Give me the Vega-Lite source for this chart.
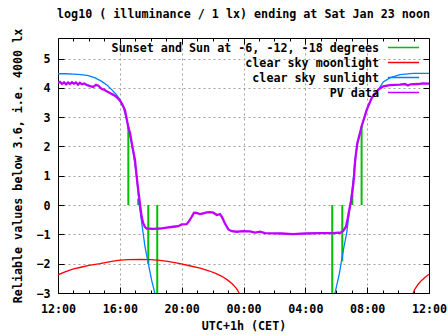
{
  "$schema": "https://vega.github.io/schema/vega-lite/v6.json",
  "width": 371,
  "height": 255,
  "autosize": "none",
  "padding": {"left": 58, "top": 38, "right": 18, "bottom": 42},
  "background": "white",
  "title": {
    "text": "log10 ( illuminance / 1 lx) ending at Sat Jan 23 noon",
    "font": "DejaVu Sans Mono",
    "fontSize": 11.7,
    "fontWeight": "bold",
    "color": "black",
    "anchor": "middle",
    "offset": 8
  },
  "config": {
    "view": {"stroke": null},
    "font": "DejaVu Sans Mono",
    "axis": {
      "labelFont": "DejaVu Sans Mono",
      "labelFontSize": 11.7,
      "labelFontWeight": "bold",
      "labelColor": "black",
      "titleFont": "DejaVu Sans Mono",
      "titleFontSize": 11.7,
      "titleFontWeight": "bold",
      "titleColor": "black",
      "domainColor": "black",
      "domainWidth": 1,
      "tickColor": "black",
      "tickWidth": 1,
      "gridColor": "#a0a0a0",
      "gridDash": [2, 3],
      "gridWidth": 1
    },
    "legend": {
      "labelFont": "DejaVu Sans Mono",
      "labelFontSize": 11.7,
      "labelFontWeight": "bold",
      "labelColor": "black"
    }
  },
  "datasets": {
    "green": [
      {"h": 4.55, "v": 2.68}, {"h": 5.19, "v": 0.22}, {"h": 5.84, "v": -2.0}, {"h": 6.42, "v": -3.0},
      {"h": 17.74, "v": -3.0}, {"h": 18.39, "v": -1.92}, {"h": 19.04, "v": 0.34}, {"h": 19.64, "v": 2.68}
    ],
    "red": [
      {"seg": "a", "h": 0, "v": -2.38}, {"seg": "a", "h": 0.5, "v": -2.27}, {"seg": "a", "h": 1.0, "v": -2.18},
      {"seg": "a", "h": 1.42, "v": -2.13}, {"seg": "a", "h": 2.0, "v": -2.06}, {"seg": "a", "h": 2.72, "v": -2.0},
      {"seg": "a", "h": 3.3, "v": -1.94}, {"seg": "a", "h": 3.88, "v": -1.89}, {"seg": "a", "h": 4.5, "v": -1.86},
      {"seg": "a", "h": 5.3, "v": -1.85}, {"seg": "a", "h": 6.0, "v": -1.86}, {"seg": "a", "h": 6.6, "v": -1.89},
      {"seg": "a", "h": 7.2, "v": -1.93}, {"seg": "a", "h": 7.9, "v": -2.0}, {"seg": "a", "h": 8.5, "v": -2.07},
      {"seg": "a", "h": 9.2, "v": -2.15}, {"seg": "a", "h": 9.8, "v": -2.25}, {"seg": "a", "h": 10.2, "v": -2.33},
      {"seg": "a", "h": 10.6, "v": -2.43}, {"seg": "a", "h": 11.0, "v": -2.57}, {"seg": "a", "h": 11.3, "v": -2.7},
      {"seg": "a", "h": 11.55, "v": -2.85}, {"seg": "a", "h": 11.72, "v": -3.0}, {"seg": "a", "h": 11.8, "v": -3.1},
      {"seg": "b", "h": 22.93, "v": -3.08}, {"seg": "b", "h": 23.05, "v": -2.9}, {"seg": "b", "h": 23.3, "v": -2.7},
      {"seg": "b", "h": 23.5, "v": -2.58}, {"seg": "b", "h": 23.75, "v": -2.46}, {"seg": "b", "h": 24.0, "v": -2.36}
    ],
    "blue": [
      {"seg": "a", "h": 0, "v": 4.48}, {"seg": "a", "h": 0.5, "v": 4.48}, {"seg": "a", "h": 1.0, "v": 4.47},
      {"seg": "a", "h": 1.5, "v": 4.45}, {"seg": "a", "h": 1.96, "v": 4.42}, {"seg": "a", "h": 2.4, "v": 4.34},
      {"seg": "a", "h": 2.83, "v": 4.22}, {"seg": "a", "h": 3.2, "v": 4.08}, {"seg": "a", "h": 3.47, "v": 3.94},
      {"seg": "a", "h": 3.75, "v": 3.78}, {"seg": "a", "h": 4.01, "v": 3.6}, {"seg": "a", "h": 4.2, "v": 3.38},
      {"seg": "a", "h": 4.33, "v": 3.14}, {"seg": "a", "h": 4.45, "v": 2.9}, {"seg": "a", "h": 4.53, "v": 2.75},
      {"seg": "a", "h": 4.87, "v": 1.77}, {"seg": "a", "h": 5.09, "v": 0.97}, {"seg": "a", "h": 5.26, "v": 0.0},
      {"seg": "a", "h": 5.45, "v": -0.74}, {"seg": "a", "h": 5.63, "v": -1.43}, {"seg": "a", "h": 5.84, "v": -2.0},
      {"seg": "a", "h": 6.06, "v": -2.57}, {"seg": "a", "h": 6.27, "v": -3.02}, {"seg": "a", "h": 6.33, "v": -3.2},
      {"seg": "b", "h": 17.85, "v": -3.25}, {"seg": "b", "h": 17.92, "v": -3.0}, {"seg": "b", "h": 18.2, "v": -2.34},
      {"seg": "b", "h": 18.35, "v": -1.88}, {"seg": "b", "h": 18.5, "v": -1.43}, {"seg": "b", "h": 18.67, "v": -0.97},
      {"seg": "b", "h": 18.78, "v": -0.51}, {"seg": "b", "h": 18.89, "v": -0.06}, {"seg": "b", "h": 18.99, "v": 0.4},
      {"seg": "b", "h": 19.1, "v": 0.86}, {"seg": "b", "h": 19.21, "v": 1.54}, {"seg": "b", "h": 19.34, "v": 2.0},
      {"seg": "b", "h": 19.64, "v": 2.68}, {"seg": "b", "h": 19.97, "v": 3.25}, {"seg": "b", "h": 20.29, "v": 3.65},
      {"seg": "b", "h": 20.72, "v": 3.94}, {"seg": "b", "h": 21.04, "v": 4.2}, {"seg": "b", "h": 21.47, "v": 4.34},
      {"seg": "b", "h": 22.12, "v": 4.45}, {"seg": "b", "h": 22.98, "v": 4.49}, {"seg": "b", "h": 24.0, "v": 4.49}
    ],
    "pv": [
      {"h": 0, "v": 4.17}, {"h": 0.13, "v": 4.2}, {"h": 0.26, "v": 4.13}, {"h": 0.39, "v": 4.19}, {"h": 0.52, "v": 4.12},
      {"h": 0.65, "v": 4.18}, {"h": 0.78, "v": 4.13}, {"h": 0.9, "v": 4.19}, {"h": 1.03, "v": 4.14}, {"h": 1.16, "v": 4.18},
      {"h": 1.29, "v": 4.11}, {"h": 1.42, "v": 4.17}, {"h": 1.55, "v": 4.12}, {"h": 1.7, "v": 4.15}, {"h": 1.86, "v": 4.1},
      {"h": 2.07, "v": 4.06}, {"h": 2.28, "v": 4.03}, {"h": 2.46, "v": 4.1}, {"h": 2.61, "v": 4.07}, {"h": 2.83, "v": 3.96},
      {"h": 2.98, "v": 3.94}, {"h": 3.15, "v": 3.88}, {"h": 3.36, "v": 3.82}, {"h": 3.58, "v": 3.76}, {"h": 3.75, "v": 3.7},
      {"h": 3.9, "v": 3.63}, {"h": 4.01, "v": 3.56}, {"h": 4.12, "v": 3.47}, {"h": 4.24, "v": 3.35}, {"h": 4.33, "v": 3.24},
      {"h": 4.44, "v": 2.95}, {"h": 4.55, "v": 2.65}, {"h": 4.66, "v": 2.46}, {"h": 4.81, "v": 2.0}, {"h": 4.98, "v": 1.54},
      {"h": 5.09, "v": 0.97}, {"h": 5.19, "v": 0.51}, {"h": 5.3, "v": 0.06}, {"h": 5.41, "v": -0.4}, {"h": 5.52, "v": -0.63},
      {"h": 5.63, "v": -0.75}, {"h": 5.74, "v": -0.8}, {"h": 6.16, "v": -0.81}, {"h": 6.6, "v": -0.8}, {"h": 7.03, "v": -0.77},
      {"h": 7.46, "v": -0.74}, {"h": 7.78, "v": -0.72}, {"h": 8.0, "v": -0.66}, {"h": 8.32, "v": -0.65}, {"h": 8.49, "v": -0.54},
      {"h": 8.65, "v": -0.4}, {"h": 8.8, "v": -0.26}, {"h": 8.97, "v": -0.27}, {"h": 9.18, "v": -0.31}, {"h": 9.4, "v": -0.28},
      {"h": 9.62, "v": -0.25}, {"h": 9.83, "v": -0.24}, {"h": 10.05, "v": -0.26}, {"h": 10.27, "v": -0.34}, {"h": 10.48, "v": -0.31},
      {"h": 10.63, "v": -0.43}, {"h": 10.8, "v": -0.63}, {"h": 11.02, "v": -0.83}, {"h": 11.24, "v": -0.89}, {"h": 11.56, "v": -0.91},
      {"h": 11.99, "v": -0.89}, {"h": 12.42, "v": -0.9}, {"h": 12.74, "v": -0.94}, {"h": 13.07, "v": -0.91}, {"h": 13.39, "v": -0.96},
      {"h": 14.47, "v": -0.97}, {"h": 15.2, "v": -0.99}, {"h": 15.98, "v": -0.97}, {"h": 16.95, "v": -0.96}, {"h": 17.81, "v": -0.96},
      {"h": 18.13, "v": -0.94}, {"h": 18.24, "v": -0.95}, {"h": 18.45, "v": -0.88}, {"h": 18.63, "v": -0.74}, {"h": 18.74, "v": -0.46},
      {"h": 18.84, "v": -0.17}, {"h": 18.95, "v": 0.11}, {"h": 19.06, "v": 0.51}, {"h": 19.15, "v": 0.97}, {"h": 19.21, "v": 1.43},
      {"h": 19.28, "v": 1.77}, {"h": 19.36, "v": 2.1}, {"h": 19.64, "v": 2.68}, {"h": 19.97, "v": 3.25}, {"h": 20.29, "v": 3.65},
      {"h": 20.72, "v": 3.94}, {"h": 21.04, "v": 4.05}, {"h": 21.47, "v": 4.09}, {"h": 22.12, "v": 4.11}, {"h": 22.44, "v": 4.13},
      {"h": 22.64, "v": 4.08}, {"h": 22.8, "v": 4.12}, {"h": 23.29, "v": 4.13}, {"h": 23.6, "v": 4.15}, {"h": 24.0, "v": 4.14}
    ]
  },
  "resolve": {"axis": {"x": "independent", "y": "independent"}},
  "layer": [
    {
      "data": {"name": "green"},
      "mark": {"type": "rule", "strokeWidth": 2, "clip": true},
      "encoding": {
        "x": {
          "field": "h", "type": "quantitative",
          "scale": {"domain": [0, 24], "nice": false, "zero": false},
          "axis": {
            "orient": "bottom",
            "title": "UTC+1h (CET)",
            "titleY": 32,
            "titleBaseline": "middle",
            "values": [0,1,2,3,4,5,6,7,8,9,10,11,12,13,14,15,16,17,18,19,20,21,22,23,24],
            "labelExpr": "datum.value % 4 == 0 ? ((((datum.value + 12) % 24) < 10 ? '0' : '') + ((datum.value + 12) % 24) + ':00') : ''",
            "labelOverlap": false,
            "labelFlush": false,
            "labelPadding": 16,
            "tickSize": {"condition": {"test": "datum.value % 4 == 0", "value": -6}, "value": -3},
            "grid": true,
            "gridOpacity": {"condition": {"test": "datum.value % 4 == 0 && datum.value > 0 && datum.value < 24", "value": 1}, "value": 0},
            "domain": true
          }
        },
        "y": {
          "field": "v", "type": "quantitative",
          "scale": {"domain": [-3, 5.7], "nice": false, "zero": false},
          "axis": {
            "orient": "left",
            "title": "Reliable values below 3.6, i.e. 4000 lx",
            "titleX": -41,
            "titleY": 127.5,
            "titleAngle": -90,
            "titleBaseline": "middle",
            "values": [-3,-2,-1,0,1,2,3,4,5],
            "tickSize": -6,
            "labelPadding": 14,
            "grid": true,
            "gridOpacity": {"condition": {"test": "datum.value > -3", "value": 1}, "value": 0},
            "domain": true
          }
        },
        "y2": {"datum": 0},
        "color": {
          "datum": "Sunset and Sun at -6, -12, -18 degrees",
          "scale": {
            "domain": ["Sunset and Sun at -6, -12, -18 degrees", "clear sky moonlight", "clear sky sunlight", "PV data"],
            "range": ["#00c000", "#ff0000", "#0080ff", "#c000ff"]
          },
          "legend": {
            "title": null,
            "orient": "none",
            "legendX": 338,
            "legendY": 2,
            "padding": 0,
            "symbolType": "M-2.4,0H2.4",
            "symbolSize": 169,
            "symbolStrokeWidth": 1.5,
            "symbolOpacity": 1,
            "rowPadding": 0,
            "labelAlign": "right",
            "labelOffset": -32,
            "labelLimit": 400
          }
        }
      }
    },
    {
      "data": {"name": "red"},
      "mark": {"type": "line", "strokeWidth": 1.3, "clip": true},
      "encoding": {
        "x": {
          "field": "h", "type": "quantitative",
          "scale": {"domain": [0, 24], "nice": false, "zero": false},
          "axis": {
            "orient": "top",
            "title": null,
            "labels": false,
            "values": [0,1,2,3,4,5,6,7,8,9,10,11,12,13,14,15,16,17,18,19,20,21,22,23,24],
            "tickSize": {"condition": {"test": "datum.value % 4 == 0", "value": -6}, "value": -3},
            "grid": false,
            "domain": true
          }
        },
        "y": {
          "field": "v", "type": "quantitative",
          "scale": {"domain": [-3, 5.7], "nice": false, "zero": false},
          "axis": {
            "orient": "right",
            "title": null,
            "labels": false,
            "values": [-3,-2,-1,0,1,2,3,4,5],
            "tickSize": -6,
            "grid": false,
            "domain": true
          }
        },
        "detail": {"field": "seg"},
        "color": {"datum": "clear sky moonlight"}
      }
    },
    {
      "data": {"name": "blue"},
      "mark": {"type": "line", "strokeWidth": 1.3, "clip": true},
      "encoding": {
        "x": {"field": "h", "type": "quantitative", "scale": {"domain": [0, 24], "nice": false, "zero": false}, "axis": null},
        "y": {"field": "v", "type": "quantitative", "scale": {"domain": [-3, 5.7], "nice": false, "zero": false}, "axis": null},
        "detail": {"field": "seg"},
        "color": {"datum": "clear sky sunlight"}
      }
    },
    {
      "data": {"name": "pv"},
      "mark": {"type": "line", "strokeWidth": 2.3, "clip": true},
      "encoding": {
        "x": {"field": "h", "type": "quantitative", "scale": {"domain": [0, 24], "nice": false, "zero": false}, "axis": null},
        "y": {"field": "v", "type": "quantitative", "scale": {"domain": [-3, 5.7], "nice": false, "zero": false}, "axis": null},
        "color": {"datum": "PV data"}
      }
    }
  ]
}
